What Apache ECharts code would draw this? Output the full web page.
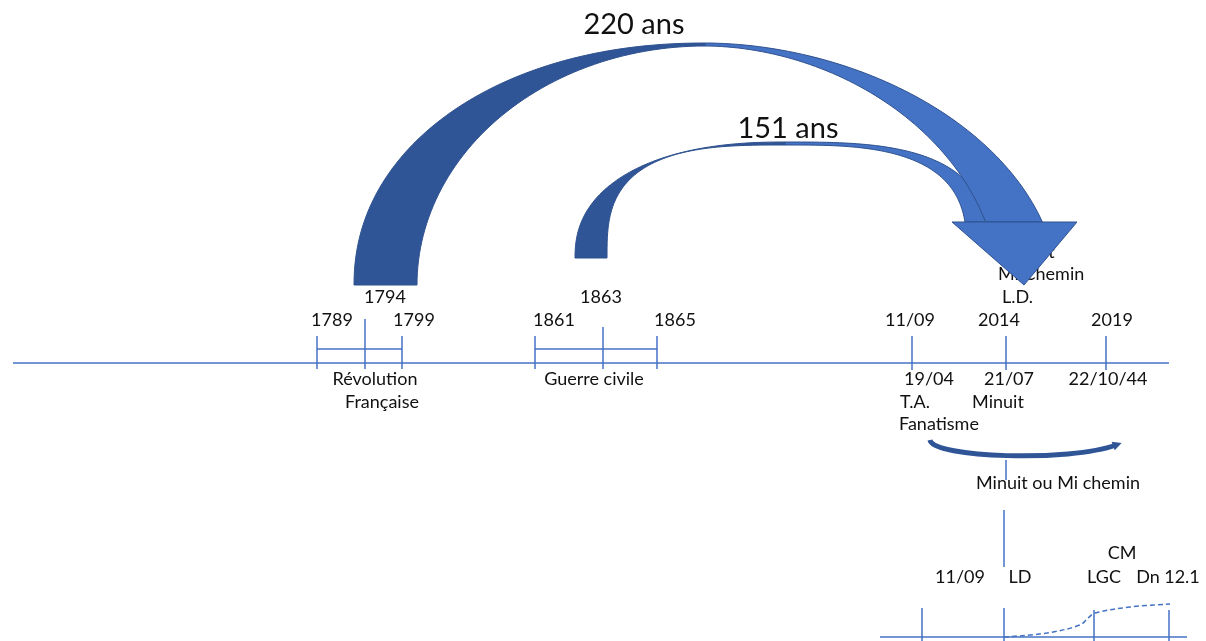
<!DOCTYPE html>
<html>
<head>
<meta charset="utf-8">
<script src="https://cdn.jsdelivr.net/npm/echarts@6/dist/echarts.min.js"></script>
<style>
  html, body { margin: 0; padding: 0; background: #fff; }
  #chart { width: 1206px; height: 641px; }
</style>
</head>
<body>
<div id="chart"></div>
<script>
// diagram units = slide pixels, y grows downward
var mainLine = [[13, 363], [1169, 363]];
var lowerLine = [[880, 637], [1187, 637]];
// x, top, bottom
var ticks = [
  [317, 336, 369], [365, 319, 369], [402, 336, 369],
  [535, 336, 369], [603, 327, 369], [657, 336, 369],
  [912, 336, 370], [1006, 336, 370], [1106, 336, 370],
  [1006, 460, 480], [1004, 510, 567],
  [922, 608, 641], [1004, 608, 641], [1094, 610, 641], [1169, 610, 641]
];
// x from, x to, y
var brackets = [[317, 402, 349], [535, 657, 349]];

var spanLabels = [[634, 25, '220 ans'], [788, 129, '151 ans']];
var eventLabels = [
  [385, 297, '1794'], [332, 320, '1789'], [414, 320, '1799'],
  [554, 320, '1861'], [601, 297, '1863'], [675, 320, '1865'],
  [375, 379, 'Révolution'], [382, 402, 'Française'], [594, 379, 'Guerre civile'],
  [910, 320, '11/09'], [999, 320, '2014'], [1112, 320, '2019'],
  [929, 379, '19/04'], [1009, 379, '21/07'], [1108, 379, '22/10/44'],
  [998, 402, 'Minuit'], [1058, 483, 'Minuit ou Mi chemin'],
  [960, 577, '11/09'], [1020, 577, 'LD'], [1122, 553, 'CM'],
  [1104, 577, 'LGC'], [1148, 577, 'Dn'], [1182, 577, '12.1']
];
var sideLabels = [
  [1003, 252, 'Minuit'], [998, 274, 'Mi Chemin'], [1002, 297, 'L.D.'],
  [900, 402, 'T.A.'], [899, 424, 'Fanatisme']
];
var trend = [[1004, 637], [1047, 633], [1080, 625], [1088, 618], [1095, 613], [1130, 607], [1170, 604]];

// curved arrows: quadrant arcs [cx, cy, rx, ry, exponent]
var arrow151 = {
  back: { outer: [785, 258, 210, 116, 2.3], inner: [785, 258, 178, 113, 3] },
  front: { outer: [785, 258, 203, 116, 3], inner: [785, 258, 182, 113, 3], endY: 222 }
};
var arrow220 = {
  back: { outer: [705, 285, 351, 242, 2.1], inner: [705, 285, 288, 239, 2] },
  front: { outer: [705, 285, 352, 242, 1.9], inner: [705, 285, 293, 239, 1.9], endY: 222 },
  head: [[952, 222], [1077, 222], [1024, 285]]
};
var smallArc = [[930, 440], [933, 458], [1070, 462], [1116, 445]];

var LINE = '#4472C4';
var DARK = '#2F5597';
var LIGHT = '#4472C4';
var EDGE = '#2F528F';
var FONT = 'Lato, "Open Sans", sans-serif';

function arcPoint(a, t, side) {
  var c = Math.pow(Math.cos(t), 2 / a[4]);
  var s = Math.pow(Math.sin(t), 2 / a[4]);
  return [a[0] + side * a[2] * c, a[1] - a[3] * s];
}
function arcRun(a, t0, t1, side) {
  var out = [];
  for (var i = 0; i <= 60; i++) {
    out.push(arcPoint(a, t0 + (t1 - t0) * i / 60, side));
  }
  return out;
}
function backBand(b) {
  return arcRun(b.outer, 0, Math.PI / 2, -1).concat(arcRun(b.inner, Math.PI / 2, 0, -1));
}
function frontBand(f) {
  var to = Math.asin(Math.pow((f.outer[1] - f.endY) / f.outer[3], f.outer[4] / 2));
  var ti = Math.asin(Math.pow((f.inner[1] - f.endY) / f.inner[3], f.inner[4] / 2));
  return arcRun(f.outer, Math.PI / 2, to, 1).concat(arcRun(f.inner, ti, Math.PI / 2, 1));
}

var shapes = [
  { pts: backBand(arrow151.back), fill: DARK },
  { pts: frontBand(arrow151.front), fill: LIGHT },
  { pts: backBand(arrow220.back), fill: DARK },
  { pts: frontBand(arrow220.front), fill: LIGHT },
  { pts: arrow220.head, fill: LIGHT }
];

function textSeries(list, size, align, z) {
  return {
    type: 'custom',
    z: z,
    silent: true,
    data: list.map(function (d) { return [d[0], d[1]]; }),
    renderItem: function (params, api) {
      var p = api.coord([api.value(0), api.value(1)]);
      return {
        type: 'text',
        style: {
          x: p[0], y: p[1],
          text: list[params.dataIndex][2],
          font: size + 'px ' + FONT,
          fill: '#111',
          align: align,
          verticalAlign: 'middle'
        }
      };
    }
  };
}

var chart = echarts.init(document.getElementById('chart'), null, { renderer: 'canvas' });

var option = {
  animation: false,
  backgroundColor: '#fff',
  grid: { left: 0, right: 0, top: 0, bottom: 0 },
  xAxis: { type: 'value', min: 0, max: 1206, show: false },
  yAxis: { type: 'value', min: 0, max: 641, inverse: true, show: false },
  series: [
    {
      type: 'line', data: mainLine, symbol: 'none', z: 3,
      lineStyle: { color: LINE, width: 1.5 }
    },
    {
      type: 'line', data: lowerLine, symbol: 'none', z: 3,
      lineStyle: { color: LINE, width: 1.5 }
    },
    {
      type: 'line', data: trend, symbol: 'none', smooth: 0.35, z: 3,
      lineStyle: { color: LINE, width: 1.5, type: [5, 3] }
    },
    {
      type: 'custom', z: 3, silent: true,
      data: ticks,
      renderItem: function (params, api) {
        var a = api.coord([api.value(0), api.value(1)]);
        var b = api.coord([api.value(0), api.value(2)]);
        return {
          type: 'line',
          shape: { x1: a[0], y1: a[1], x2: b[0], y2: b[1] },
          style: { stroke: LINE, lineWidth: 1.5 }
        };
      }
    },
    {
      type: 'custom', z: 3, silent: true,
      data: brackets,
      renderItem: function (params, api) {
        var a = api.coord([api.value(0), api.value(2)]);
        var b = api.coord([api.value(1), api.value(2)]);
        return {
          type: 'line',
          shape: { x1: a[0], y1: a[1], x2: b[0], y2: b[1] },
          style: { stroke: LINE, lineWidth: 1.5 }
        };
      }
    },
    textSeries(spanLabels, 29, 'center', 4),
    textSeries(eventLabels, 18, 'center', 4),
    textSeries(sideLabels, 18, 'left', 4),
    {
      type: 'custom', z: 6, silent: true, clip: false,
      data: shapes.map(function (s, i) { return [i, 0]; }),
      renderItem: function (params, api) {
        var s = shapes[params.dataIndex];
        return {
          type: 'polygon',
          shape: { points: s.pts.map(function (p) { return api.coord(p); }) },
          style: { fill: s.fill, stroke: EDGE, lineWidth: 1 }
        };
      }
    },
    {
      type: 'custom', z: 6, silent: true,
      data: [[0, 0]],
      renderItem: function (params, api) {
        var p = smallArc.map(function (q) { return api.coord(q); });
        var end = p[3], c2 = p[2];
        var dx = end[0] - c2[0], dy = end[1] - c2[1];
        var len = Math.sqrt(dx * dx + dy * dy);
        dx /= len; dy /= len;
        var tip = [end[0] + dx * 6, end[1] + dy * 6];
        var back = [end[0] - dx * 3, end[1] - dy * 3];
        return {
          type: 'group',
          children: [
            {
              type: 'bezierCurve',
              shape: { x1: p[0][0], y1: p[0][1], cpx1: p[1][0], cpy1: p[1][1], cpx2: p[2][0], cpy2: p[2][1], x2: end[0], y2: end[1] },
              style: { stroke: DARK, lineWidth: 5, fill: null }
            },
            {
              type: 'polygon',
              shape: { points: [tip, [back[0] - dy * 4.5, back[1] + dx * 4.5], [back[0] + dy * 4.5, back[1] - dx * 4.5]] },
              style: { fill: DARK }
            }
          ]
        };
      }
    }
  ]
};

chart.setOption(option);
</script>
</body>
</html>
